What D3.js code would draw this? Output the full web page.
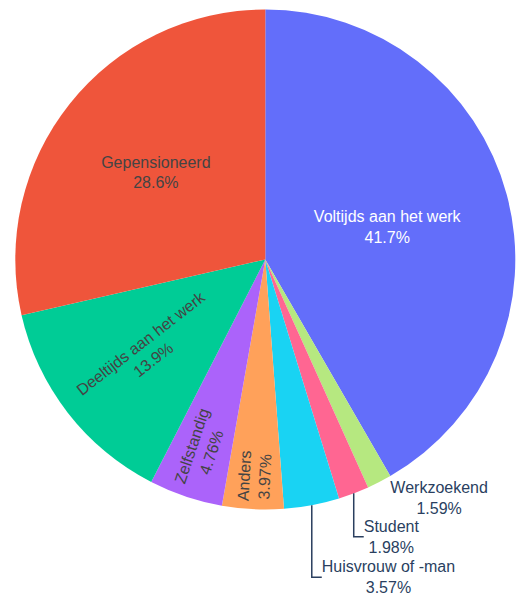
<!DOCTYPE html>
<html>
<head>
<meta charset="utf-8">
<script src="https://cdn.jsdelivr.net/npm/d3@7"></script>
<style>
  html, body { margin: 0; padding: 0; background: #fff; }
  svg { display: block; }
  text { font-family: "Liberation Sans", Arial, sans-serif; font-size: 16px; }
</style>
</head>
<body>
<svg id="chart" width="523" height="600"></svg>
<script>
// ---- data (clockwise from 12 o'clock) ----
const categories = ["Voltijds aan het werk", "Werkzoekend", "Student", "Huisvrouw of -man",
                    "Anders", "Zelfstandig", "Deeltijds aan het werk", "Gepensioneerd"];
const counts = [105, 4, 5, 9, 10, 12, 35, 72];
const percentLabels = ["41.7%", "1.59%", "1.98%", "3.57%", "3.97%", "4.76%", "13.9%", "28.6%"];
const colors = ["#636efa", "#b6e880", "#ff6692", "#19d3f3", "#ffa15a", "#ab63fa", "#00cc96", "#ef553b"];

// ---- label layout (style/config) ----
// mode: "h" horizontal inside, "r" radial inside, "o" outside
const labelMode = ["h", "o", "o", "o", "r", "r", "r", "h"];
const labelRadiusFrac = [0.505, 1, 1, 1, 0.868, 0.80, 0.60, 0.56];
const outsideDy = [0, 16, 43.5, 72, 0, 0, 0, 0];
const outsideLeader = [false, false, true, true, false, false, false, false];
const insideColor = ["#ffffff", "#444", "#444", "#444", "#444", "#444", "#444", "#444"];

const cx = 265.3, cy = 259.5, R = 250;
const lineH = 20.5;

const svg = d3.select("#chart");
const g = svg.append("g").attr("transform", `translate(${cx},${cy})`);

const pie = d3.pie().sort(null).value(d => d).startAngle(0).endAngle(2 * Math.PI);
const arcs = pie(counts);
const arc = d3.arc().innerRadius(0).outerRadius(R);

g.selectAll("path.slice")
  .data(arcs)
  .join("path")
  .attr("class", "slice")
  .attr("d", arc)
  .attr("fill", (d, i) => colors[i]);

function pointAt(angle, r) {
  return [Math.sin(angle) * r, -Math.cos(angle) * r];
}

arcs.forEach((d, i) => {
  const mid = (d.startAngle + d.endAngle) / 2;
  const lines = [categories[i], percentLabels[i]];
  if (labelMode[i] === "h" || labelMode[i] === "r") {
    const [x, y] = pointAt(mid, R * labelRadiusFrac[i]);
    let rot = 0;
    if (labelMode[i] === "r") {
      const ix = -Math.sin(mid), iy = Math.cos(mid); // inward direction
      rot = Math.atan2(iy, ix) * 180 / Math.PI;
    }
    const t = g.append("text")
      .attr("transform", `translate(${x},${y}) rotate(${rot})`)
      .attr("text-anchor", "middle")
      .attr("fill", insideColor[i]);
    lines.forEach((ln, k) => {
      t.append("tspan")
        .attr("x", 0)
        .attr("y", (k - (lines.length - 1) / 2) * lineH)
        .attr("dy", "0.35em")
        .text(ln);
    });
  } else {
    const [px, py] = pointAt(mid, R);
    const ly = py + outsideDy[i];
    let left;
    if (outsideLeader[i]) {
      g.append("path")
        .attr("d", `M${px},${py}V${ly}H${px + 10}`)
        .attr("fill", "none")
        .attr("stroke", "#2a3f5f")
        .attr("stroke-width", 1.5);
      left = px + 10;
    } else {
      left = px + 11;
    }
    const t = g.append("text")
      .attr("text-anchor", "middle")
      .attr("fill", "#2a3f5f");
    const tspans = lines.map((ln, k) =>
      t.append("tspan")
        .attr("y", ly + (k - (lines.length - 1) / 2) * lineH)
        .attr("dy", "0.35em")
        .text(ln));
    const w = d3.max(tspans, s => s.node().getComputedTextLength());
    tspans.forEach(s => s.attr("x", left + w / 2));
  }
});
</script>
</body>
</html>
